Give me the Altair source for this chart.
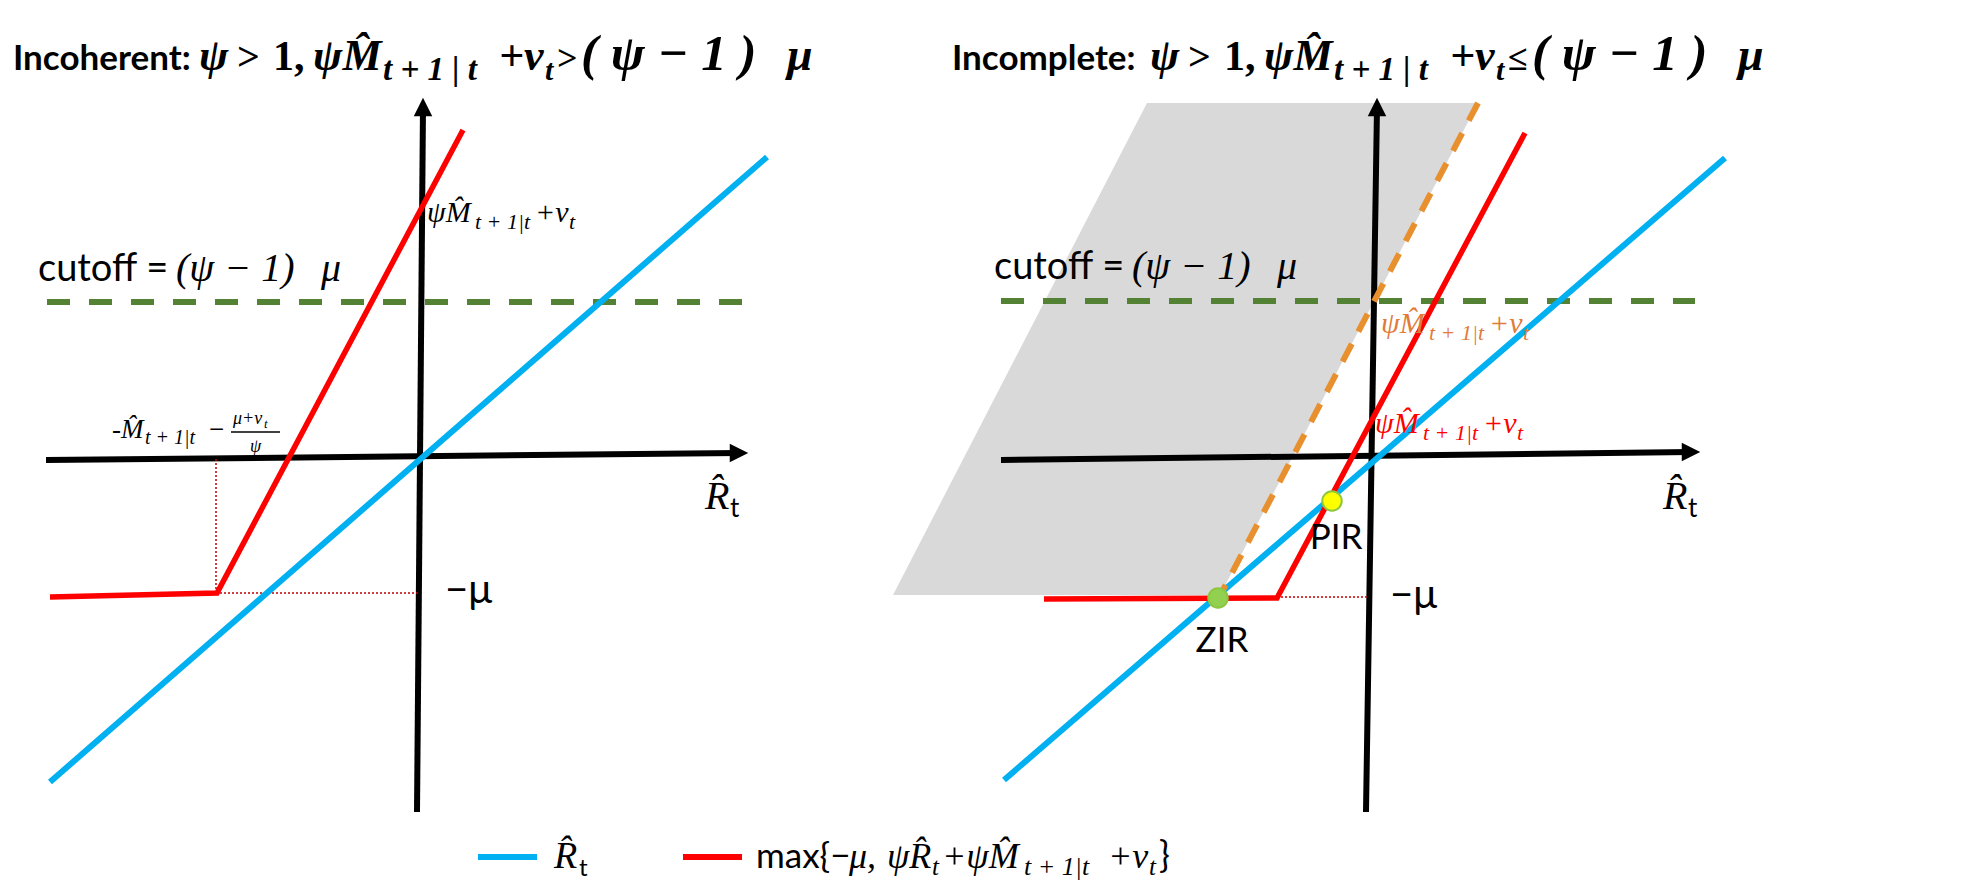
import altair as alt
import pandas as pd

# ---------------- data (diagram units, origin = crossing of each panel's axes) ----------------
SERIES = ["R_hat", "policy"]
SERIES_COLORS = ["#00B0F0", "#FF0000"]

# Left panel ("Incoherent")
L_HAXIS_X = [-3.74, 3.19]
L_HAXIS_Y = [-0.01, 0.06]
L_HARROW = (3.19, 0.06)
L_VAXIS_X = [-0.03, 0.03]
L_VAXIS_Y = [-3.53, 3.52]
L_VARROW = (0.03, 3.52)
L_BLUE_X = [-3.70, 3.47]
L_BLUE_Y = [-3.23, 3.02]
L_RED_X = [-3.70, -2.03, 0.43]
L_RED_Y = [-1.38, -1.34, 3.29]
L_CUT_X = [-3.73, 3.28]
L_CUT_Y = [1.57, 1.57]
L_DOTV_X = [-2.04, -2.04]
L_DOTV_Y = [0.0, -1.34]
L_DOTH_X = [-2.04, 0.0]
L_DOTH_Y = [-1.34, -1.34]

# Right panel ("Incomplete")
R_HAXIS_X = [-3.69, 3.21]
R_HAXIS_Y = [-0.01, 0.07]
R_HARROW = (3.21, 0.07)
R_VAXIS_X = [-0.04, 0.07]
R_VAXIS_Y = [-3.53, 3.52]
R_VARROW = (0.07, 3.52)
R_BLUE_X = [-3.66, 3.55]
R_BLUE_Y = [-3.21, 3.01]
R_RED_X = [-3.26, -0.93, 1.55]
R_RED_Y = [-1.40, -1.39, 3.26]
R_CUT_X = [-3.69, 3.25]
R_CUT_Y = [1.58, 1.58]
R_DOT_X = [-0.93, -0.03]
R_DOT_Y = [-1.38, -1.38]
R_ORANGE_X = [1.08, -1.47]
R_ORANGE_Y = [3.56, -1.31]
R_GRAY_Y = [3.56, -1.36]
R_GRAY_XL = [-2.23, -4.77]
R_GRAY_XR = [1.08, -1.50]
R_POINTS_NAME = ["PIR", "ZIR"]
R_POINTS_X = [-0.38, -1.52]
R_POINTS_Y = [-0.42, -1.39]

# ---------------- layout ----------------
L_W, R_W, P_H = 872, 1085, 820
L_XDOM = [-4.12, 4.60]
R_XDOM = [-4.90, 5.95]
YDOM = [-3.69, 4.51]

SANS = "Lato"
MATH = "Liberation Serif"
BLUE, RED = SERIES_COLORS
GREEN = "#548235"
ORANGE = "#E8902E"
ORANGE_TXT = "#E07B39"
GRAY = "#D9D9D9"
IT, NO, B = "italic", "normal", "bold"


def enc(xdom):
    return dict(
        x=alt.X("x:Q", scale=alt.Scale(domain=xdom, nice=False, zero=False), axis=None),
        y=alt.Y("y:Q", scale=alt.Scale(domain=YDOM, nice=False, zero=False), axis=None),
    )


def line(xs, ys, xdom, **mk):
    df = pd.DataFrame({"x": xs, "y": ys, "o": list(range(len(xs)))})
    return alt.Chart(df).mark_line(**mk).encode(order="o:Q", **enc(xdom))


def arrow(pt, xdom, kind):
    shape = "M-1,-1L1,0L-1,1Z" if kind == "right" else "M0,-1L1,1L-1,1Z"
    df = pd.DataFrame({"x": [pt[0]], "y": [pt[1]]})
    return alt.Chart(df).mark_point(shape=shape, size=340, filled=True, color="black",
                                    opacity=1, strokeWidth=0).encode(**enc(xdom))


def rich(x, y, xdom, segs):
    """segs: list of (text, dx, dy, size, family, style, weight, color)"""
    out = []
    df = pd.DataFrame({"x": [x], "y": [y]})
    for (t, dx, dy, size, fam, style, weight, color) in segs:
        out.append(alt.Chart(df).mark_text(text=t, dx=dx, dy=dy, fontSize=size, font=fam,
                                           fontStyle=style, fontWeight=weight, color=color,
                                           align="left", baseline="alphabetic").encode(**enc(xdom)))
    return out


def title_segs(word, rel, shift):
    k = "black"
    return [
        (word, 0, 0, 35, SANS, NO, B, k),
        ("\u03c8", 186 + shift, 0, 44, MATH, IT, B, k),
        (">", 224 + shift, 0, 40, MATH, NO, B, k),
        ("1,", 260 + shift, 0, 42, MATH, NO, B, k),
        ("\u03c8M\u0302", 300 + shift, 0, 44, MATH, IT, B, k),
        ("t + 1 | t", 370 + shift, 10, 33, MATH, IT, B, k),
        ("+v", 486 + shift, 0, 44, MATH, IT, B, k),
        ("t", 532 + shift, 10, 30, MATH, IT, B, k),
        (rel, 544 + shift, 0, 36, MATH, NO, B, k),
        ("( \u03c8 \u2212 1 )", 568 + shift, 0, 51, MATH, IT, B, k),
        ("\u03bc", 774 + shift, 0, 46, MATH, IT, B, k),
    ]


def mhat_segs(color):
    return [
        ("\u03c8M\u0302", 0, 0, 30, MATH, IT, NO, color),
        ("t + 1|t", 48, 7, 22, MATH, IT, NO, color),
        ("+v", 108, 0, 30, MATH, IT, NO, color),
        ("t", 142, 7, 22, MATH, IT, NO, color),
    ]


def cutoff_segs():
    return [
        ("cutoff =", 0, 0, 38, SANS, NO, NO, "black"),
        ("(\u03c8 \u2212 1)", 138, 0, 40, MATH, IT, NO, "black"),
        ("\u03bc", 283, 0, 40, MATH, IT, NO, "black"),
    ]


def rhat_segs():
    return [
        ("R\u0302", 0, 0, 40, MATH, IT, NO, "black"),
        ("t", 25, 8, 26, SANS, NO, NO, "black"),
    ]


def minus_mu():
    return [("\u2212\u03bc", 0, 0, 40, SANS, NO, NO, "black")]


# ---------------- left panel ----------------
ld = L_XDOM
left_layers = [
    line(L_HAXIS_X, L_HAXIS_Y, ld, color="black", strokeWidth=6),
    line(L_VAXIS_X, L_VAXIS_Y, ld, color="black", strokeWidth=6),
    arrow(L_HARROW, ld, "right"),
    arrow(L_VARROW, ld, "up"),
    line(L_DOTV_X, L_DOTV_Y, ld, color="#C00000", strokeWidth=1.5, strokeDash=[2, 2]),
    line(L_DOTH_X, L_DOTH_Y, ld, color="#C00000", strokeWidth=1.5, strokeDash=[2, 2]),
    line(L_CUT_X, L_CUT_Y, ld, color=GREEN, strokeWidth=6, strokeDash=[23, 19]),
    line(L_BLUE_X, L_BLUE_Y, ld, color=BLUE, strokeWidth=6),
    line(L_RED_X, L_RED_Y, ld, color=RED, strokeWidth=5.5, strokeJoin="miter"),
]
left_layers += rich(-4.07, 3.89, ld, title_segs("Incoherent:", ">", 0))
left_layers += rich(-3.82, 1.78, ld, cutoff_segs())
left_layers += rich(0.07, 2.37, ld, mhat_segs("black"))
FR_X, FR_Y = -3.08, 0.21
left_layers += rich(FR_X, FR_Y, ld, [
    ("-M\u0302", 0, 0, 27, MATH, IT, NO, "black"),
    ("t + 1|t", 33, 6, 20, MATH, IT, NO, "black"),
    ("\u2212", 97, 0, 27, MATH, NO, NO, "black"),
    ("\u03bc+v", 121, -14, 18, MATH, IT, NO, "black"),
    ("t", 152, -10, 13, MATH, IT, NO, "black"),
    ("\u03c8", 138, 14, 18, MATH, IT, NO, "black"),
])
left_layers.append(alt.Chart(pd.DataFrame({"x": [FR_X + 1.19], "x2": [FR_X + 1.68], "y": [FR_Y + 0.06]}))
                   .mark_rule(color="black", strokeWidth=1.3)
                   .encode(x2="x2:Q", **enc(ld)))
left_layers += rich(0.25, -1.44, ld, minus_mu())
left_layers += rich(2.85, -0.50, ld, rhat_segs())
left = alt.layer(*left_layers).properties(width=L_W, height=P_H)

# ---------------- right panel ----------------
rd = R_XDOM
gray_df = pd.DataFrame({"y": R_GRAY_Y, "x": R_GRAY_XL, "x2": R_GRAY_XR})
pts_df = pd.DataFrame({"name": R_POINTS_NAME, "x": R_POINTS_X, "y": R_POINTS_Y})
right_layers = [
    alt.Chart(gray_df).mark_area(orient="horizontal", color=GRAY, opacity=1)
    .encode(x2="x2:Q", **enc(rd)),
    line(R_HAXIS_X, R_HAXIS_Y, rd, color="black", strokeWidth=6),
    line(R_VAXIS_X, R_VAXIS_Y, rd, color="black", strokeWidth=6),
    arrow(R_HARROW, rd, "right"),
    arrow(R_VARROW, rd, "up"),
    line(R_DOT_X, R_DOT_Y, rd, color="#C00000", strokeWidth=1.5, strokeDash=[2, 2]),
    line(R_CUT_X, R_CUT_Y, rd, color=GREEN, strokeWidth=6, strokeDash=[23, 19]),
    line(R_BLUE_X, R_BLUE_Y, rd, color=BLUE, strokeWidth=6),
    line(R_RED_X, R_RED_Y, rd, color=RED, strokeWidth=5.5, strokeJoin="miter"),
    line(R_ORANGE_X, R_ORANGE_Y, rd, color=ORANGE, strokeWidth=6, strokeDash=[20, 14]),
    alt.Chart(pts_df).mark_point(filled=True, size=380, opacity=1, strokeWidth=2, stroke="#8DC63F")
    .encode(fill=alt.Fill("name:N", scale=alt.Scale(domain=R_POINTS_NAME, range=["#FFFF00", "#92D050"]),
                          legend=None), **enc(rd)),
]
right_layers += rich(-4.18, 3.89, rd, title_segs("Incomplete:", "\u2264", 12))
right_layers += rich(-3.76, 1.80, rd, cutoff_segs())
right_layers += rich(0.11, 1.26, rd, mhat_segs(ORANGE_TXT))
right_layers += rich(0.05, 0.26, rd, mhat_segs(RED))
right_layers += rich(2.93, -0.50, rd, rhat_segs())
right_layers += rich(0.20, -1.49, rd, minus_mu())
for nm, px, py in [("PIR", -0.34, -0.90), ("ZIR", -1.48, -1.93)]:
    right_layers.append(alt.Chart(pd.DataFrame({"x": [px], "y": [py]}))
                        .mark_text(text=nm, fontSize=35, font=SANS, align="center",
                                   baseline="alphabetic", color="black").encode(**enc(rd)))
right = alt.layer(*right_layers).properties(width=R_W, height=P_H)

# ---------------- legend row ----------------
LEG_W, LEG_H = L_W + R_W, 59
leg_df = pd.DataFrame({"series": SERIES, "x1": [470, 675], "x2": [529, 734]})
legend_lines = alt.Chart(leg_df).mark_rule(strokeWidth=6).encode(
    x=alt.X("x1:Q", scale=alt.Scale(domain=[0, LEG_W], nice=False, zero=False), axis=None),
    x2="x2:Q",
    y=alt.value(29),
    color=alt.Color("series:N", scale=alt.Scale(domain=SERIES, range=SERIES_COLORS), legend=None),
)


def legtxt(t, x, dy, size, fam, style=NO):
    return alt.Chart(pd.DataFrame({"a": [0]})).mark_text(
        text=t, fontSize=size, font=fam, fontStyle=style, align="left", baseline="alphabetic",
        color="black", dy=dy).encode(x=alt.value(x), y=alt.value(40))


legend_layers = [
    legend_lines,
    legtxt("R\u0302", 546, 0, 38, MATH, IT),
    legtxt("t", 571, 8, 24, SANS),
    legtxt("max{\u2212", 748, 0, 35, SANS),
    legtxt("\u03bc,", 841, 0, 36, MATH, IT),
    legtxt("\u03c8R\u0302", 879, 0, 36, MATH, IT),
    legtxt("t", 924, 7, 25, MATH, IT),
    legtxt("+\u03c8M\u0302", 934, 0, 36, MATH, IT),
    legtxt("t + 1|t", 1016, 7, 26, MATH, IT),
    legtxt("+v", 1100, 0, 36, MATH, IT),
    legtxt("t", 1141, 7, 25, MATH, IT),
    legtxt("}", 1151, 0, 36, SANS),
]
legend = alt.layer(*legend_layers).properties(width=LEG_W, height=LEG_H)

chart = alt.vconcat(
    alt.hconcat(left, right, spacing=0).resolve_scale(x="independent", y="independent"),
    legend,
    spacing=0,
).resolve_scale(x="independent", y="independent", color="independent").properties(
    padding=0
).configure_view(stroke=None)

chart.save("out.html", embed_options={"renderer": "svg", "actions": False})
